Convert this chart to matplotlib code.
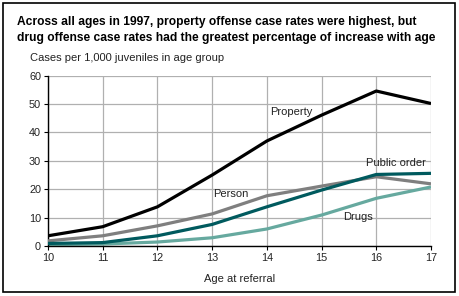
import matplotlib
matplotlib.use("Agg")
import matplotlib.pyplot as plt
from matplotlib.patches import Rectangle

ages = [10, 11, 12, 13, 14, 15, 16, 17]
property_rate = [3.6, 6.8, 13.8, 25.0, 37.0, 46.1, 54.6, 50.2]
person_rate = [1.8, 3.6, 7.1, 11.3, 17.7, 21.1, 24.4, 21.9]
public_order_rate = [0.9, 1.2, 3.6, 7.6, 13.8, 19.7, 25.2, 25.6]
drugs_rate = [0.5, 0.7, 1.4, 2.9, 6.0, 10.9, 16.8, 20.8]

plt.rcParams["font.family"] = ["Liberation Sans", "DejaVu Sans"]

fig = plt.figure(figsize=(4.59, 2.96), dpi=100)
fig.patches.append(Rectangle((3 / 459, 4 / 296), 452 / 459, 289 / 296,
                             transform=fig.transFigure, fill=False,
                             edgecolor="black", linewidth=1.2))

ax = fig.add_axes([48 / 459, 1 - 246 / 296, 383 / 459, 170.3 / 296])

ax.plot(ages, property_rate, color="black", lw=2.3, solid_capstyle="butt", zorder=5)
ax.plot(ages, person_rate, color="#7f7f7f", lw=2.3, solid_capstyle="butt", zorder=3)
ax.plot(ages, public_order_rate, color="#005a5e", lw=2.3, solid_capstyle="butt", zorder=4)
ax.plot(ages, drugs_rate, color="#66a99f", lw=2.3, solid_capstyle="butt", zorder=2)

ax.text(14.06, 47.2, "Property", fontsize=8, va="center", ha="left", color="#222222")
ax.text(13.02, 18.3, "Person", fontsize=8, va="center", ha="left", color="#222222")
ax.text(15.81, 29.2, "Public order", fontsize=8, va="center", ha="left", color="#222222")
ax.text(15.39, 10.2, "Drugs", fontsize=8, va="center", ha="left", color="#222222")

ax.set_xlim(10, 17)
ax.set_ylim(0, 60)
ax.set_xticks(ages)
ax.set_yticks(range(0, 61, 10))
ax.grid(True, color="#b0b0b0", lw=0.9)
ax.set_axisbelow(True)
for s in ("top", "right"):
    ax.spines[s].set_visible(False)
for s in ("left", "bottom"):
    ax.spines[s].set_linewidth(1.0)
ax.tick_params(labelsize=7.8, length=3, width=0.8, direction="out", pad=2)
for lbl in ax.get_xticklabels() + ax.get_yticklabels():
    lbl.set_color("#222222")

fig.text(17 / 459, 1 - 22 / 296, "Across all ages in 1997, property offense case rates were highest, but",
         fontsize=8.65, fontweight="bold", va="center", ha="left")
fig.text(17 / 459, 1 - 38 / 296, "drug offense case rates had the greatest percentage of increase with age",
         fontsize=8.65, fontweight="bold", va="center", ha="left")
fig.text(30 / 459, 1 - 58 / 296, "Cases per 1,000 juveniles in age group",
         fontsize=8, va="center", ha="left", color="#222222")
fig.text(240 / 459, 1 - 279 / 296, "Age at referral",
         fontsize=8, va="center", ha="center", color="#222222")

fig.savefig("out.png", dpi=100)
